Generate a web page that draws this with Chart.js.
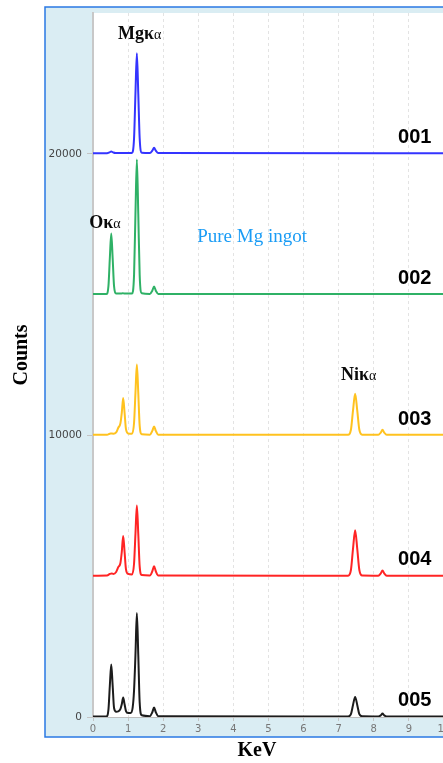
<!DOCTYPE html>
<html>
<head>
<meta charset="utf-8">
<script src="https://cdn.jsdelivr.net/npm/chart.js@4"></script>
<style>
    html, body { margin: 0; padding: 0; overflow: hidden; background: #fff; }
    #wrap { position: absolute; left: 0; top: 0; width: 479px; height: 763px; }
</style>
</head>
<body>
<div id="wrap"><canvas id="edsChart"></canvas></div>
<script>
const sampleNames = ['001', '002', '003', '004', '005'];
const baselineOffsets = [20000, 15000, 10000, 5000, 0];
const lineColors = ['#3434ff', '#2fb166', '#ffc21f', '#ff2424', '#1c1c1c'];

const kev001 = [0, 0.40, 0.47, 0.52, 0.57, 0.64, 1.11, 1.17, 1.21, 1.25, 1.29, 1.33, 1.39, 1.62, 1.69, 1.74, 1.79, 1.86, 11];
const counts001 = [20, 20, 50, 80, 50, 25, 30, 550, 2150, 3570, 2150, 550, 40, 25, 110, 215, 110, 25, 20];

const kev002 = [0, 0.38, 0.44, 0.48, 0.52, 0.56, 0.60, 0.66, 0.80, 0.85, 0.90, 1.11, 1.17, 1.21, 1.25, 1.29, 1.33, 1.39, 1.62, 1.69, 1.74, 1.79, 1.86, 11];
const counts002 = [20, 20, 300, 1300, 2170, 1300, 300, 40, 35, 50, 35, 40, 700, 2880, 4800, 2880, 700, 45, 25, 140, 285, 140, 25, 20];

const kev003 = [0, 0.40, 0.50, 0.58, 0.66, 0.72, 0.78, 0.82, 0.86, 0.90, 0.94, 1.00, 1.11, 1.17, 1.21, 1.25, 1.29, 1.33, 1.39, 1.62, 1.69, 1.74, 1.79, 1.86, 7.27, 7.35, 7.41, 7.47, 7.53, 7.59, 7.67, 8.13, 8.20, 8.25, 8.30, 8.37, 11];
const counts003 = [20, 25, 70, 60, 110, 270, 420, 800, 1330, 800, 220, 70, 60, 450, 1510, 2520, 1510, 350, 40, 25, 160, 320, 160, 25, 20, 200, 890, 1480, 890, 200, 25, 20, 100, 200, 100, 20, 20];

const kev004 = [0, 0.40, 0.48, 0.53, 0.58, 0.66, 0.72, 0.78, 0.82, 0.86, 0.90, 0.94, 1.00, 1.11, 1.17, 1.21, 1.25, 1.29, 1.33, 1.39, 1.62, 1.69, 1.74, 1.79, 1.86, 7.27, 7.35, 7.41, 7.47, 7.53, 7.59, 7.67, 8.13, 8.20, 8.25, 8.30, 8.37, 11];
const counts004 = [20, 25, 80, 100, 80, 150, 320, 460, 860, 1430, 860, 240, 80, 60, 450, 1510, 2510, 1510, 350, 40, 25, 175, 350, 175, 25, 20, 220, 980, 1630, 980, 220, 25, 20, 100, 200, 100, 20, 20];

const kev005 = [0, 0.38, 0.44, 0.48, 0.52, 0.56, 0.60, 0.66, 0.72, 0.78, 0.82, 0.86, 0.90, 0.94, 1.00, 1.07, 1.13, 1.17, 1.21, 1.25, 1.29, 1.33, 1.39, 1.62, 1.69, 1.74, 1.79, 1.86, 7.27, 7.35, 7.41, 7.47, 7.53, 7.59, 7.67, 8.13, 8.20, 8.25, 8.30, 8.37, 11];
const counts005 = [20, 20, 260, 1120, 1860, 1120, 320, 190, 200, 280, 450, 690, 450, 210, 140, 140, 330, 950, 2210, 3690, 2210, 520, 60, 30, 170, 335, 170, 30, 20, 100, 430, 710, 430, 100, 25, 20, 60, 120, 60, 20, 20];

const kevSeries = [kev001, kev002, kev003, kev004, kev005];
const countSeries = [counts001, counts002, counts003, counts004, counts005];

const xTicks = [0, 1, 2, 3, 4, 5, 6, 7, 8, 9, 10];
const yTicks = [0, 10000, 20000];

// peak tags: [main text, greek suffix, keV at left edge, counts at middle]
const peakTags = [
    ['Mgκ', 'α', 0.71, 24230],
    ['Oκ', 'α', -0.11, 17540],
    ['Niκ', 'α', 7.07, 12125]
];

function buildDatasets() {
    return sampleNames.map(function(name, i) {
        const pts = kevSeries[i].map(function(e, j) {
            return { x: e, y: baselineOffsets[i] + countSeries[i][j] };
        });
        return {
            label: name,
            data: pts,
            borderColor: lineColors[i],
            borderWidth: 2,
            pointRadius: 0,
            fill: false,
            cubicInterpolationMode: 'monotone'
        };
    });
}

const framePlugin = {
    id: 'frame',
    beforeDraw: function(chart) {
        const ctx = chart.ctx;
        const a = chart.chartArea;
        ctx.save();
        ctx.fillStyle = '#daedf3';
        ctx.fillRect(45, 7, chart.width - 45, 730);
        ctx.strokeStyle = '#2a78e4';
        ctx.lineWidth = 1.5;
        ctx.strokeRect(45, 7, chart.width, 730);
        ctx.fillStyle = '#ffffff';
        ctx.fillRect(a.left, a.top, a.right - a.left, a.bottom - a.top);
        ctx.restore();
    },
    afterDraw: function(chart) {
        const ctx = chart.ctx;
        const xs = chart.scales.x;
        const ys = chart.scales.y;
        ctx.save();
        ctx.textBaseline = 'middle';

        // peak tags
        peakTags.forEach(function(t) {
            let px = xs.getPixelForValue(t[2]);
            const py = ys.getPixelForValue(t[3]);
            ctx.textAlign = 'left';
            ctx.fillStyle = '#0a0a0a';
            ctx.font = 'bold 18px "Liberation Serif"';
            ctx.fillText(t[0], px, py);
            px += ctx.measureText(t[0]).width;
            ctx.font = '14px "Liberation Serif"';
            ctx.fillText(t[1], px, py + 1);
        });

        ctx.fillStyle = '#1a9cf5';
        ctx.font = '19px "Liberation Serif"';
        ctx.fillText('Pure Mg ingot', xs.getPixelForValue(2.97), ys.getPixelForValue(17050));

        // sample numbers
        ctx.textAlign = 'center';
        ctx.fillStyle = '#000';
        ctx.font = 'bold 20px "Liberation Sans"';
        sampleNames.forEach(function(name, i) {
            ctx.fillText(name, xs.getPixelForValue(9.17), ys.getPixelForValue(baselineOffsets[i] + 580));
        });

        // axis titles
        ctx.font = 'bold 20px "Liberation Serif"';
        ctx.fillText('KeV', 257, 751);
        ctx.translate(22, 355);
        ctx.rotate(-Math.PI / 2);
        ctx.fillText('Counts', 0, 0);
        ctx.restore();
    }
};

window.addEventListener('DOMContentLoaded', function() {
    const ctx = document.getElementById('edsChart').getContext('2d');
    new Chart(ctx, {
        type: 'line',
        data: { datasets: buildDatasets() },
        plugins: [framePlugin],
        options: {
            responsive: true,
            maintainAspectRatio: false,
            animation: false,
            layout: { padding: { top: 13, right: 0, left: 0, bottom: 0 } },
            plugins: { legend: { display: false }, tooltip: { enabled: false } },
            scales: {
                x: {
                    type: 'linear',
                    min: 0,
                    max: 11,
                    afterFit: function(s) { s.height = 46; },
                    afterBuildTicks: function(s) { s.ticks = xTicks.map(function(v) { return { value: v }; }); },
                    ticks: {
                        color: '#777',
                        padding: 2,
                        maxRotation: 0,
                        font: { family: 'DejaVu Sans', size: 10 },
                        callback: function(v) { return String(v); }
                    },
                    grid: { color: '#e3e3e3', lineWidth: 1, tickLength: 4, tickColor: '#c4c4c4' },
                    border: { display: true, color: '#bdbdbd', width: 1, dash: [3, 3] }
                },
                y: {
                    min: 0,
                    max: 25000,
                    afterFit: function(s) { s.width = 93; },
                    afterBuildTicks: function(s) { s.ticks = yTicks.map(function(v) { return { value: v }; }); },
                    ticks: {
                        color: '#444',
                        padding: 5,
                        font: { family: 'DejaVu Sans', size: 10.5 },
                        callback: function(v) { return String(v); }
                    },
                    grid: { drawOnChartArea: false, tickLength: 6, tickColor: '#c4c4c4' },
                    border: { display: true, color: '#c8c8c8', width: 2 }
                }
            }
        }
    });
});
</script>
</body>
</html>
